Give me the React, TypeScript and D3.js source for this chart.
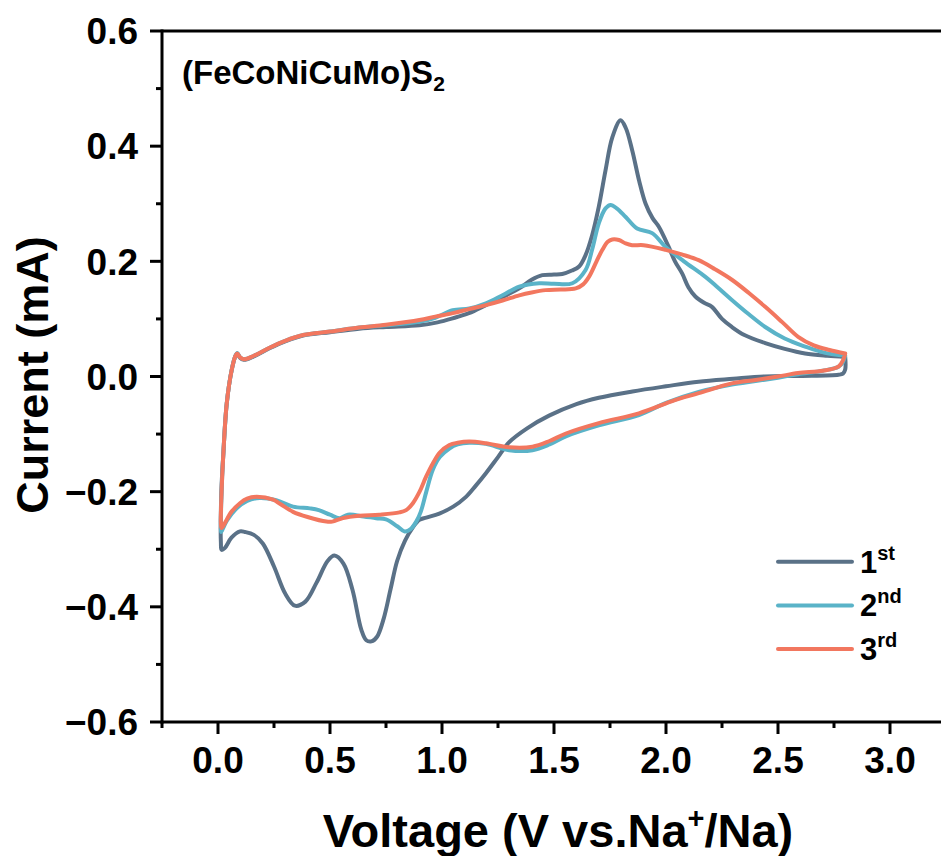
import React from 'react';
import * as d3 from 'd3';

// cycle 1 (gray-blue): cathodic branch 2.8 -> 0, then anodic 0 -> 2.8
const cycle1: [number, number][] = [
  [2.80, 0.034], [2.80, 0.012], [2.79, 0.005], [2.77, 0.003], [2.6, 0.001], [2.44, 0.0],
  [2.3, -0.004], [2.146, -0.009], [2.0, -0.017], [1.85, -0.026], [1.70, -0.037], [1.6, -0.048],
  [1.478, -0.068], [1.38, -0.09], [1.30, -0.114], [1.25, -0.14], [1.196, -0.168], [1.15, -0.19],
  [1.107, -0.209], [1.05, -0.226], [0.988, -0.238], [0.93, -0.245], [0.899, -0.249], [0.87, -0.262],
  [0.835, -0.285], [0.80, -0.32], [0.77, -0.37], [0.74, -0.42], [0.71, -0.452], [0.685, -0.46],
  [0.662, -0.458], [0.64, -0.44], [0.60, -0.37], [0.56, -0.325], [0.52, -0.311], [0.49, -0.32],
  [0.44, -0.358], [0.39, -0.391], [0.343, -0.398], [0.30, -0.377], [0.25, -0.33], [0.20, -0.29],
  [0.16, -0.275], [0.12, -0.27], [0.098, -0.269], [0.06, -0.28], [0.03, -0.298], [0.016, -0.301],
  [0.013, -0.29], [0.015, -0.2], [0.024, -0.133], [0.039, -0.047], [0.061, 0.011], [0.078, 0.036],
  [0.086, 0.040], [0.097, 0.033], [0.115, 0.029], [0.16, 0.035], [0.23, 0.049], [0.30, 0.061],
  [0.38, 0.071], [0.5, 0.077], [0.63, 0.083], [0.75, 0.086], [0.899, 0.089], [0.98, 0.094],
  [1.048, 0.101], [1.12, 0.11], [1.196, 0.124], [1.27, 0.138], [1.345, 0.153], [1.40, 0.168],
  [1.448, 0.176], [1.5, 0.177], [1.537, 0.178], [1.58, 0.184], [1.612, 0.191], [1.64, 0.21],
  [1.67, 0.245], [1.70, 0.295], [1.73, 0.358], [1.76, 0.415], [1.797, 0.445], [1.82, 0.432],
  [1.849, 0.393], [1.88, 0.34], [1.909, 0.30], [1.94, 0.275], [1.968, 0.26], [2.012, 0.225],
  [2.04, 0.20], [2.072, 0.179], [2.10, 0.155], [2.131, 0.139], [2.17, 0.128], [2.205, 0.121],
  [2.25, 0.100], [2.294, 0.086], [2.35, 0.072], [2.443, 0.058], [2.53, 0.048], [2.621, 0.040],
  [2.72, 0.036], [2.80, 0.034],
];

// cycle 2 (cyan)
const cycle2: [number, number][] = [
  [2.80, 0.036], [2.79, 0.025], [2.77, 0.017], [2.70, 0.010], [2.59, 0.004], [2.5, -0.002],
  [2.4, -0.008], [2.294, -0.014], [2.146, -0.027], [2.0, -0.046], [1.879, -0.067], [1.70, -0.085],
  [1.553, -0.104], [1.48, -0.118], [1.404, -0.128], [1.30, -0.128], [1.196, -0.117], [1.122, -0.115],
  [1.07, -0.118], [1.033, -0.125], [0.99, -0.14], [0.959, -0.162], [0.93, -0.20], [0.905, -0.235],
  [0.885, -0.252], [0.86, -0.265], [0.833, -0.269], [0.80, -0.26], [0.75, -0.248], [0.706, -0.246],
  [0.65, -0.243], [0.58, -0.240], [0.543, -0.246], [0.50, -0.24], [0.45, -0.232], [0.41, -0.229],
  [0.335, -0.226], [0.26, -0.215], [0.187, -0.211], [0.13, -0.216], [0.08, -0.23], [0.04, -0.25],
  [0.02, -0.266], [0.014, -0.27],
  [0.013, -0.26], [0.016, -0.2], [0.024, -0.133], [0.039, -0.047], [0.061, 0.011], [0.078, 0.036],
  [0.086, 0.041], [0.097, 0.034], [0.115, 0.030], [0.16, 0.036], [0.23, 0.050], [0.30, 0.062],
  [0.38, 0.072], [0.5, 0.078], [0.63, 0.085], [0.75, 0.089], [0.899, 0.095], [0.97, 0.102],
  [1.048, 0.115], [1.122, 0.118], [1.196, 0.127], [1.27, 0.141], [1.345, 0.156], [1.434, 0.162],
  [1.50, 0.161], [1.582, 0.162], [1.641, 0.185], [1.67, 0.22], [1.70, 0.266], [1.73, 0.292],
  [1.753, 0.298], [1.78, 0.292], [1.82, 0.277], [1.871, 0.257], [1.938, 0.249], [1.998, 0.225],
  [2.08, 0.20], [2.176, 0.173], [2.23, 0.155], [2.294, 0.133], [2.37, 0.108], [2.443, 0.086],
  [2.53, 0.066], [2.621, 0.052], [2.71, 0.041], [2.80, 0.036],
];

// cycle 3 (orange)
const cycle3: [number, number][] = [
  [2.80, 0.040], [2.79, 0.028], [2.77, 0.017], [2.70, 0.010], [2.59, 0.006], [2.5, 0.0],
  [2.4, -0.006], [2.294, -0.012], [2.146, -0.029], [2.04, -0.041], [1.998, -0.047], [1.879, -0.064],
  [1.70, -0.081], [1.553, -0.099], [1.48, -0.112], [1.404, -0.122], [1.30, -0.123], [1.196, -0.116],
  [1.122, -0.113], [1.07, -0.115], [1.033, -0.119], [0.99, -0.132], [0.959, -0.151], [0.929, -0.174],
  [0.90, -0.20], [0.87, -0.22], [0.84, -0.232], [0.81, -0.236], [0.72, -0.24], [0.632, -0.242],
  [0.558, -0.246], [0.51, -0.252], [0.484, -0.252], [0.40, -0.244], [0.335, -0.235], [0.28, -0.222],
  [0.246, -0.214], [0.172, -0.209], [0.13, -0.212], [0.098, -0.22], [0.06, -0.235], [0.03, -0.255],
  [0.016, -0.263],
  [0.013, -0.255], [0.016, -0.2], [0.024, -0.133], [0.039, -0.047], [0.061, 0.011], [0.078, 0.036],
  [0.086, 0.040], [0.097, 0.034], [0.115, 0.030], [0.16, 0.036], [0.23, 0.050], [0.30, 0.062],
  [0.38, 0.072], [0.5, 0.078], [0.63, 0.085], [0.75, 0.090], [0.899, 0.098], [0.97, 0.104],
  [1.048, 0.110], [1.12, 0.117], [1.196, 0.124], [1.27, 0.132], [1.345, 0.141], [1.40, 0.146],
  [1.463, 0.150], [1.53, 0.151], [1.597, 0.153], [1.63, 0.16], [1.656, 0.173], [1.69, 0.20],
  [1.716, 0.22], [1.74, 0.234], [1.76, 0.238], [1.79, 0.237], [1.82, 0.231], [1.849, 0.228],
  [1.90, 0.228], [1.998, 0.22], [2.07, 0.212], [2.146, 0.202], [2.22, 0.186], [2.294, 0.168],
  [2.37, 0.145], [2.443, 0.121], [2.52, 0.094], [2.59, 0.069], [2.66, 0.054], [2.73, 0.046],
  [2.80, 0.040],
];

const seriesNames = ['1', '2', '3'];
const seriesSup = ['st', 'nd', 'rd'];
const seriesColors = ['#5a7187', '#5ab3c8', '#f2775f'];
const seriesData = [cycle1, cycle2, cycle3];

const xTicks = [0, 0.5, 1.0, 1.5, 2.0, 2.5, 3.0];
const xMinor = [-0.25, 0.25, 0.75, 1.25, 1.75, 2.25, 2.75, 3.25];
const yTicks = [-0.6, -0.4, -0.2, 0, 0.2, 0.4, 0.6];
const yMinor = [-0.5, -0.3, -0.1, 0.1, 0.3, 0.5];

const W = 941;
const H = 856;
const font = '"Liberation Sans", Arial, sans-serif';

const fmt = (v: number) => {
  const s = Math.abs(v).toFixed(1);
  return v < -1e-9 ? '\u2212' + s : s;
};

export default function App() {
  const x = d3.scaleLinear().domain([-0.25, 3.25]).range([162, 946]);
  const y = d3.scaleLinear().domain([-0.6, 0.6]).range([722, 31]);

  const line = d3
    .line<[number, number]>()
    .x((d) => x(d[0]))
    .y((d) => y(d[1]))
    .curve(d3.curveCatmullRom.alpha(0.5));

  const left = x(-0.25);
  const bottom = y(-0.6);
  const top = y(0.6);

  return (
    <>
      <style>{`body{margin:0;background:#fff}`}</style>
      <svg width={W} height={H} style={{ display: 'block' }} fontFamily={font}>
        <rect width={W} height={H} fill="#fff" />

        {seriesData.map((d, i) => (
          <path
            key={i}
            d={line(d) || ''}
            fill="none"
            stroke={seriesColors[i]}
            strokeWidth={4}
            strokeLinejoin="round"
            strokeLinecap="round"
          />
        ))}

        {/* frame */}
        <line x1={left} x2={W} y1={top} y2={top} stroke="#000" strokeWidth={3} />
        <line x1={left} x2={W} y1={bottom} y2={bottom} stroke="#000" strokeWidth={3} />
        <line x1={left} x2={left} y1={top - 1.5} y2={bottom + 1.5} stroke="#000" strokeWidth={3} />

        {/* x ticks */}
        {xTicks.map((t) => (
          <g key={'xt' + t}>
            <line x1={x(t)} x2={x(t)} y1={bottom} y2={bottom + 12} stroke="#000" strokeWidth={3} />
            <text x={x(t)} y={773} textAnchor="middle" fontSize={37} fontWeight="bold">
              {fmt(t)}
            </text>
          </g>
        ))}
        {xMinor.map((t) => (
          <line key={'xm' + t} x1={x(t)} x2={x(t)} y1={bottom} y2={bottom + 6} stroke="#000" strokeWidth={3} />
        ))}

        {/* y ticks */}
        {yTicks.map((t) => (
          <g key={'yt' + t}>
            <line x1={left - 12} x2={left} y1={y(t)} y2={y(t)} stroke="#000" strokeWidth={3} />
            <text x={138} y={y(t)} dy="0.36em" textAnchor="end" fontSize={37} fontWeight="bold">
              {fmt(t)}
            </text>
          </g>
        ))}
        {yMinor.map((t) => (
          <line key={'ym' + t} x1={left - 6} x2={left} y1={y(t)} y2={y(t)} stroke="#000" strokeWidth={3} />
        ))}

        {/* axis titles */}
        <text x={558} y={847} textAnchor="middle" fontSize={47} fontWeight="bold">
          Voltage (V vs.Na
          <tspan fontSize={29} dy={-19}>+</tspan>
          <tspan dy={19}>/Na)</tspan>
        </text>
        <text
          transform={`translate(48, ${375}) rotate(-90)`}
          textAnchor="middle"
          fontSize={45}
          fontWeight="bold"
        >
          Current (mA)
        </text>

        {/* sample label */}
        <text x={182} y={84} fontSize={33} fontWeight="bold">
          (FeCoNiCuMo)S
          <tspan fontSize={21} dy={7}>2</tspan>
        </text>

        {/* legend */}
        {seriesNames.map((n, i) => {
          const ly = 561.7 + i * 43.7;
          return (
            <g key={'lg' + i}>
              <line x1={778} x2={852} y1={ly} y2={ly} stroke={seriesColors[i]} strokeWidth={4} strokeLinecap="round" />
              <text x={860} y={ly + 11} fontSize={31} fontWeight="bold">
                {n}
                <tspan fontSize={20} dy={-13}>{seriesSup[i]}</tspan>
              </text>
            </g>
          );
        })}
      </svg>
    </>
  );
}
